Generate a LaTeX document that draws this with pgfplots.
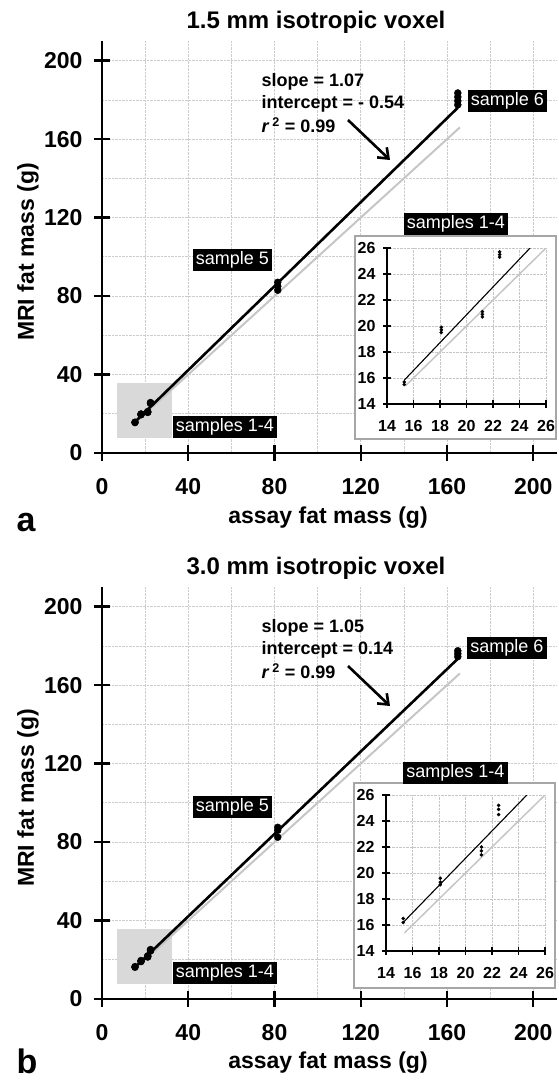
\documentclass[border=0pt]{standalone}
\usepackage{fontspec}
\setmainfont{Liberation Sans}
\usepackage{pgfplots}
\pgfplotsset{compat=1.18}
\usetikzlibrary{arrows.meta}

\pgfplotsset{
  mainax/.style={
    scale only axis, width=455pt, height=412pt,
    xmin=0, xmax=211, ymin=0, ymax=210,
    axis lines=left, axis line style={-, line width=2.6pt},
    xtick={0,40,...,200}, ytick={0,40,...,200},
    minor xtick={20,60,...,180}, minor ytick={20,60,...,180},
    grid=both,
    major grid style={densely dotted, gray!40, line width=0.7pt},
    minor grid style={densely dotted, gray!40, line width=0.7pt},
    major tick length=16pt, minor tick length=0pt, tick align=center,
    major tick style={line width=2.4pt, black},
    ticklabel style={font=\fontsize{23}{23}\selectfont\bfseries},
    xticklabel style={yshift=-14pt},
    yticklabel style={xshift=-8pt},
    /pgf/number format/assume math mode=true,
  },
  inax/.style={
    scale only axis, width=159pt, height=156pt,
    xmin=14, xmax=26, ymin=14, ymax=26,
    axis lines=left, axis line style={-, line width=1.1pt},
    xtick={14,16,...,26}, ytick={14,16,...,26},
    grid=major,
    major grid style={densely dotted, gray!45, line width=0.6pt},
    major tick length=8pt, tick align=center,
    major tick style={line width=1.1pt, black},
    ticklabel style={font=\fontsize{16}{16}\selectfont\bfseries},
    xticklabel style={yshift=-9pt},
    yticklabel style={xshift=-4pt},
    /pgf/number format/assume math mode=true,
  },
}
\tikzset{
  lab/.style={fill=black, text=white, font=\fontsize{18}{18}\selectfont,
    inner xsep=3pt, inner ysep=2.5pt, text height=13pt, text depth=4pt},
  stat/.style={anchor=west, font=\fontsize{18}{18}\selectfont\bfseries},
  ttl/.style={font=\fontsize{24}{24}\selectfont\bfseries},
  axl/.style={font=\fontsize{23}{23}\selectfont\bfseries},
  pnl/.style={anchor=base west, font=\fontsize{34}{34}\selectfont\bfseries},
}

\begin{document}
\begin{tikzpicture}
\path[use as bounding box] (0,0) rectangle (559pt,-1080pt);

% ---------- panel a ----------
\begin{axis}[mainax, at={(102pt,-453pt)}, anchor=south west]
  \fill[gray!30] (axis cs:7,7.7) rectangle (axis cs:32.5,35.7);
  \addplot[gray!45, line width=2pt] coordinates {(15.3,15.3)(166,166)};
  \addplot[black, line width=2.6pt] coordinates {(15.3,15.83)(165,176.0)};
  \addplot[only marks, mark=*, mark size=3.5pt, black] coordinates {
    (15.3,15.5)(15.3,15.7)(18.1,19.5)(18.1,19.7)(18.1,19.9)
    (21.2,20.7)(21.2,20.9)(21.2,21.1)(22.5,25.3)(22.5,25.5)(22.5,25.7)
    (81.5,83)(81.5,85)(81.5,87)
    (165,177.5)(165,179.5)(165,181.5)(165,183.5)};
\end{axis}
\fill[white, draw=gray!70, line width=1.5pt] (355pt,-236pt) rectangle (556pt,-439pt);
\begin{axis}[inax, at={(387pt,-404pt)}, anchor=south west]
  \addplot[gray!45, line width=1.5pt] coordinates {(15.4,15.4)(26,26)};
  \addplot[black, line width=1.1pt] coordinates {(15.3,15.83)(24.8,26.0)};
  \addplot[only marks, mark=*, mark size=1.6pt, black] coordinates {
    (15.3,15.5)(15.3,15.7)(18.1,19.5)(18.1,19.7)(18.1,19.9)
    (21.2,20.7)(21.2,20.9)(21.2,21.1)(22.5,25.3)(22.5,25.5)(22.5,25.7)};
\end{axis}
\node[ttl] at (316pt,-22pt) {1.5 mm isotropic voxel};
\node[axl] at (328pt,-518pt) {assay fat mass (g)};
\node[axl, rotate=90] at (28pt,-252pt) {MRI fat mass (g)};
\node[pnl] at (13pt,-531pt) {a};
\node[lab] at (232.5pt,-260pt) {sample 5};
\node[lab] at (507.5pt,-101pt) {sample 6};
\node[lab] at (225pt,-426.5pt) {samples 1-4};
\node[lab] at (456pt,-224pt) {samples 1-4};
\node[stat] at (258pt,-82pt) {slope = 1.07};
\node[stat] at (258pt,-103.5pt) {intercept = - 0.54};
\node[stat] at (258pt,-125pt) {\textit{r}\,\textsuperscript{2} = 0.99};
\draw[line width=2.6pt, -{Straight Barb[length=9pt, width=14pt, line width=2.6pt]}] (348pt,-120pt) -- (390pt,-160pt);

% ---------- panel b ----------
\begin{axis}[mainax, at={(102pt,-999pt)}, anchor=south west]
  \fill[gray!30] (axis cs:7,7.7) rectangle (axis cs:32.5,35.7);
  \addplot[gray!45, line width=2pt] coordinates {(15.3,15.3)(166,166)};
  \addplot[black, line width=2.6pt] coordinates {(15.3,16.2)(165,173.4)};
  \addplot[only marks, mark=*, mark size=3.5pt, black] coordinates {
    (15.3,16.2)(15.3,16.5)(18.1,19.1)(18.1,19.3)(18.1,19.6)
    (21.2,21.4)(21.2,21.7)(21.2,22.0)(22.5,24.5)(22.5,24.9)(22.5,25.2)
    (81.5,82.5)(81.5,86)(81.5,87.5)
    (165,174.5)(165,176)(165,177.5)};
\end{axis}
\fill[white, draw=gray!70, line width=1.5pt] (354pt,-783pt) rectangle (555pt,-988pt);
\begin{axis}[inax, at={(386pt,-951pt)}, anchor=south west]
  \addplot[gray!45, line width=1.5pt] coordinates {(15.4,15.4)(26,26)};
  \addplot[black, line width=1.1pt] coordinates {(15.3,16.2)(24.63,26.0)};
  \addplot[only marks, mark=*, mark size=1.6pt, black] coordinates {
    (15.3,16.2)(15.3,16.5)(18.1,19.1)(18.1,19.3)(18.1,19.6)
    (21.2,21.4)(21.2,21.7)(21.2,22.0)(22.5,24.5)(22.5,24.9)(22.5,25.2)};
\end{axis}
\node[ttl] at (316pt,-568pt) {3.0 mm isotropic voxel};
\node[axl] at (328pt,-1063pt) {assay fat mass (g)};
\node[axl, rotate=90] at (28pt,-798pt) {MRI fat mass (g)};
\node[pnl] at (13pt,-1073pt) {b};
\node[lab] at (232.5pt,-807pt) {sample 5};
\node[lab] at (507pt,-648pt) {sample 6};
\node[lab] at (225pt,-972.5pt) {samples 1-4};
\node[lab] at (455.5pt,-772.5pt) {samples 1-4};
\node[stat] at (258pt,-628pt) {slope = 1.05};
\node[stat] at (258pt,-649.5pt) {intercept = 0.14};
\node[stat] at (258pt,-671pt) {\textit{r}\,\textsuperscript{2} = 0.99};
\draw[line width=2.6pt, -{Straight Barb[length=9pt, width=14pt, line width=2.6pt]}] (348pt,-666pt) -- (390pt,-706pt);
\end{tikzpicture}
\end{document}
